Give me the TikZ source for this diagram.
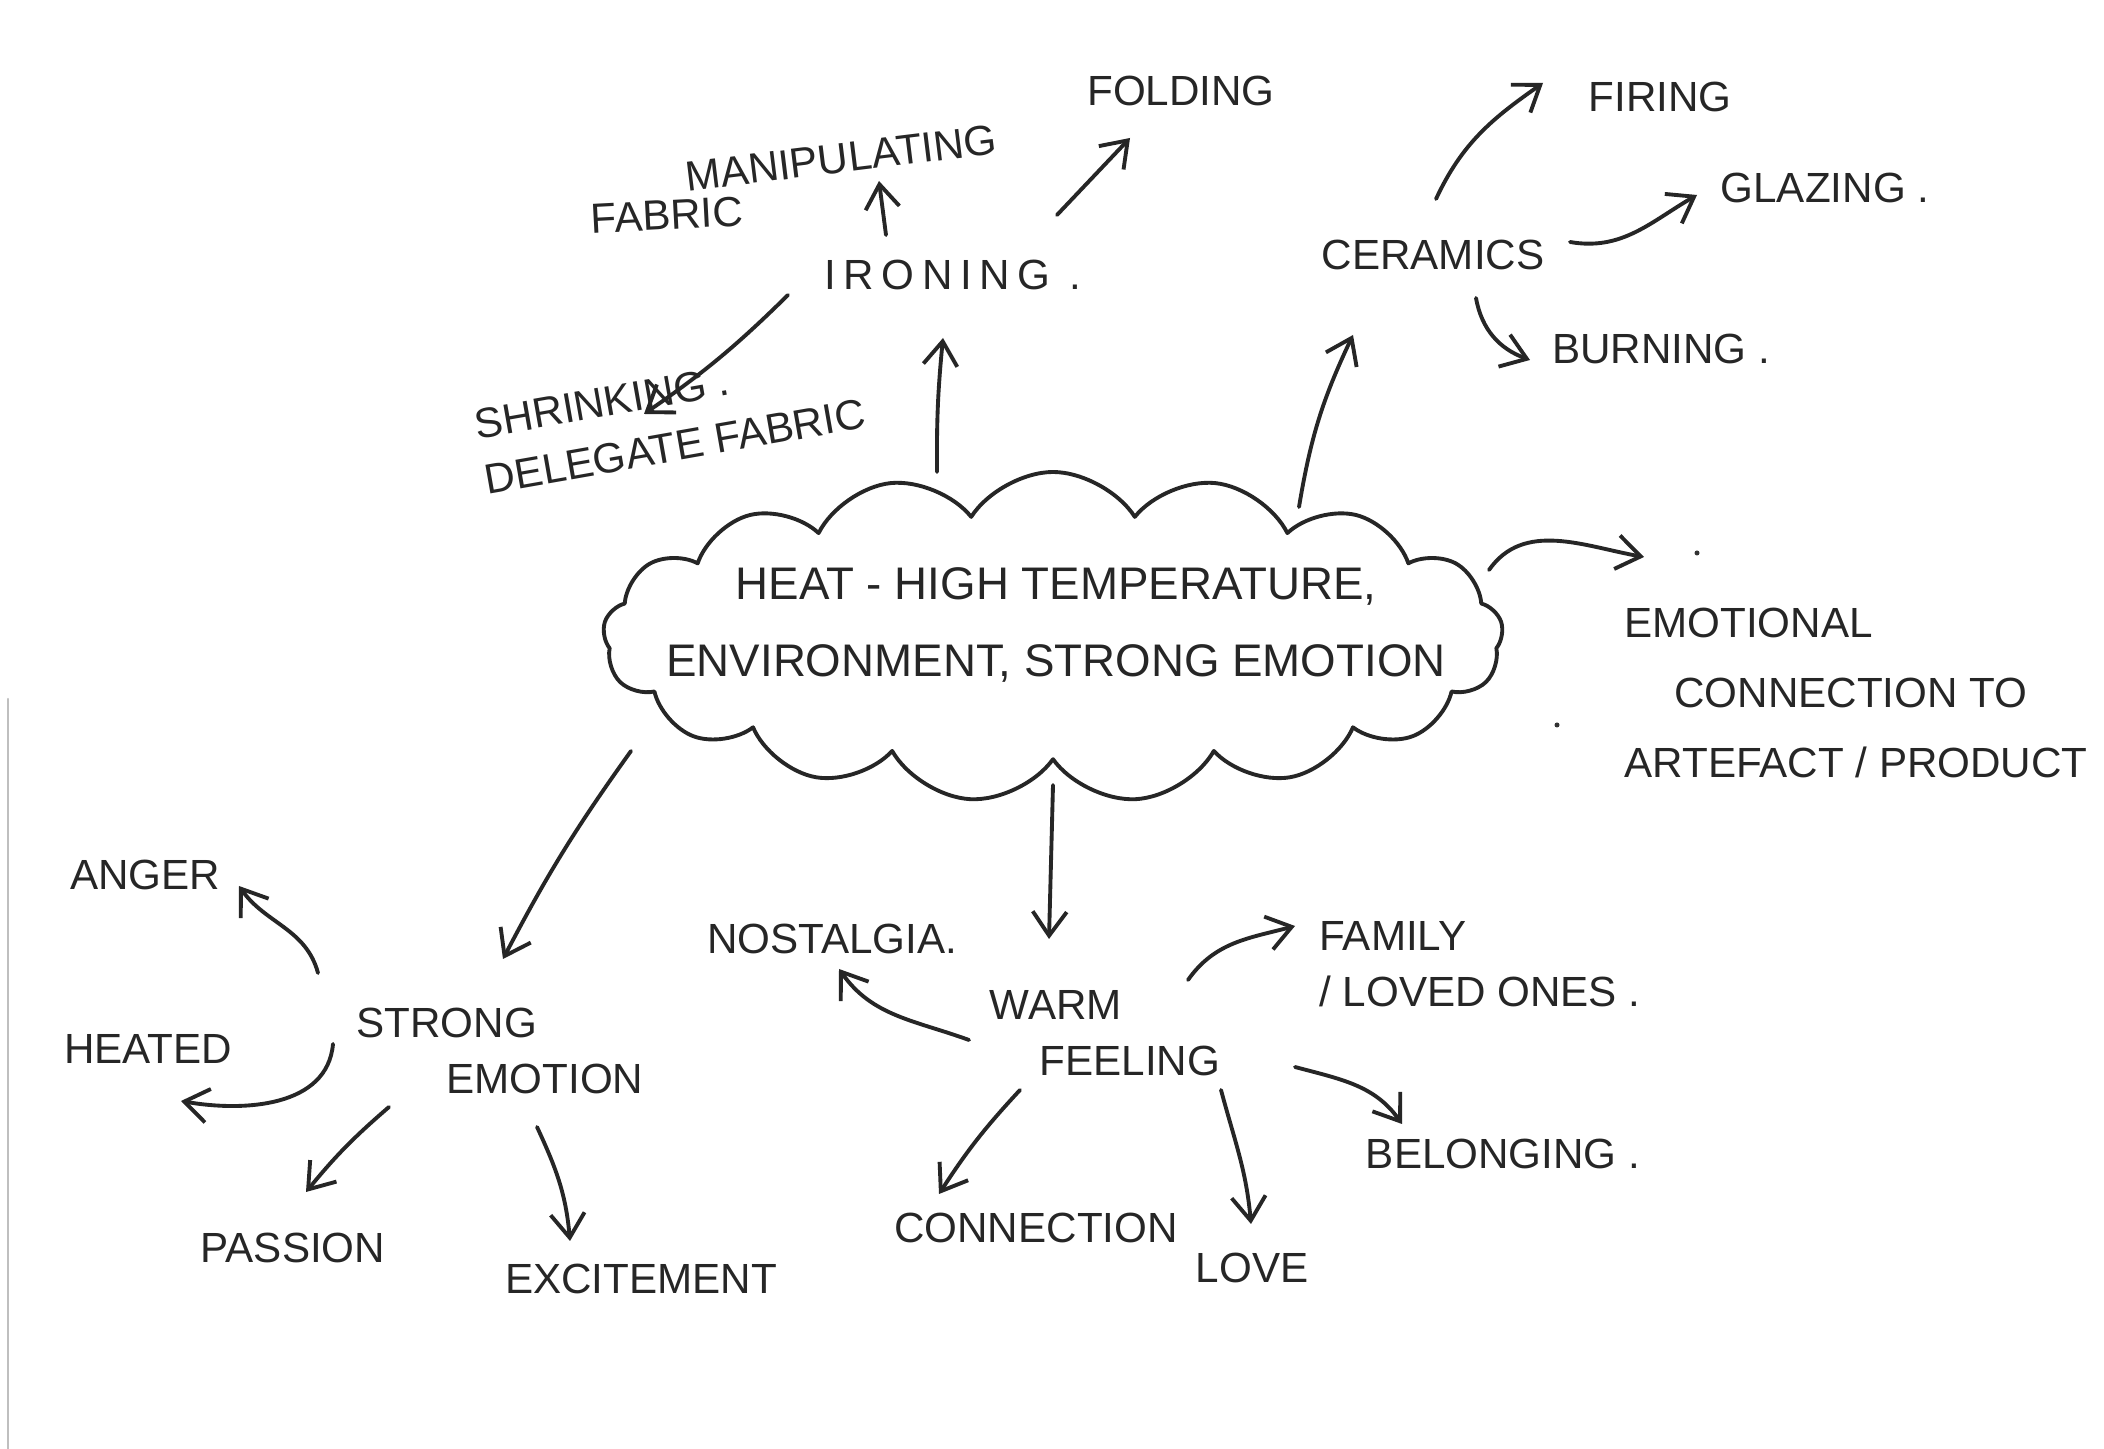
\documentclass[tikz,border=0pt]{standalone}
\usepackage{fontspec}
\setmainfont{Liberation Sans}
\usetikzlibrary{shapes.symbols,arrows.meta}

\begin{document}
\begin{tikzpicture}[line width=1.1pt, line cap=round, line join=round,
    word/.style={font=\fontsize{12}{16}\selectfont, inner sep=1pt, text=black!85},
    conn/.style={draw=black!85, -{Straight Barb[length=2.4mm,width=3.4mm]}}]
  % the sheet, with the scanner edge on the left
  \fill[white] (0,0) rectangle (21.04,14.49);
  \useasboundingbox (0,0) rectangle (21.04,14.49);
  \draw[black!25, line width=0.6pt] (0.08,0) -- (0.08,7.5);

  % the cloud in the middle, and its text on top
  \node[cloud, draw=black!85, cloud puffs=17, cloud puff arc=115, aspect=2.6,
        minimum width=9.0cm, minimum height=3.3cm] (heat) at (10.53,8.12) {};
  \node[align=center, font=\fontsize{13}{22}\selectfont, text=black!85] (heattext)
    at (10.56,8.24) {HEAT - HIGH TEMPERATURE,\\ENVIRONMENT, STRONG EMOTION};

  % ironing and what comes of it
  \node[word] (ironing) at (9.53,11.74) {\addfontfeature{LetterSpace=18}IRONING .};
  \node[word, rotate=7] (manip) at (8.41,12.91) {MANIPULATING};
  \node[word, rotate=3] (fabric) at (6.67,12.34) {FABRIC};
  \node[word] (folding) at (11.81,13.58) {FOLDING};
  \node[word, rotate=10, align=left] (shrink) at (6.70,10.30) {SHRINKING .\\DELEGATE FABRIC};

  % ceramics
  \node[word] (ceramics) at (14.33,11.94) {CERAMICS};
  \node[word] (firing) at (16.60,13.52) {FIRING};
  \node[word] (glazing) at (18.25,12.61) {GLAZING .};
  \node[word] (burning) at (16.61,11.00) {BURNING .};

  % the note on the right
  \node[word, align=left, font=\fontsize{12}{20}\selectfont] (emo) at (18.56,7.56)
    {EMOTIONAL\\\hspace{5mm}CONNECTION TO\\ARTEFACT / PRODUCT};
  \fill[black!80] (16.97,8.96) circle (0.025);
  \fill[black!80] (15.57,7.24) circle (0.025);

  % strong emotion
  \node[word, align=left] (strong) at (5.0,3.98) {STRONG\\\hspace{9mm}EMOTION};
  \node[word] (anger) at (1.45,5.74) {ANGER};
  \node[word] (heated) at (1.48,4.00) {HEATED};
  \node[word] (passion) at (2.93,2.01) {PASSION};
  \node[word] (excite) at (6.41,1.70) {EXCITEMENT};

  % warm feeling
  \node[word, align=left] (warm) at (11.05,4.16) {WARM\\\hspace{5mm}FEELING};
  \node[word] (nostalgia) at (8.32,5.10) {NOSTALGIA.};
  \node[word, align=left] (family) at (14.80,4.85) {FAMILY\\/ LOVED ONES .};
  \node[word] (belonging) at (15.03,2.95) {BELONGING .};
  \node[word] (connection) at (10.36,2.21) {CONNECTION};
  \node[word] (love) at (12.52,1.81) {LOVE};

  % arrows, top half
  \draw[conn] ([shift={(-0.67,0.40)}]ironing.center) to ([shift={(0.38,-0.23)}]manip.center);
  \draw[conn] ([shift={(1.04,0.60)}]ironing.center) to ([shift={(-0.51,-0.47)}]folding.center);
  \draw[conn] ([shift={(-1.65,-0.20)}]ironing.center) to[bend left=5] ([shift={(-0.26,0.05)}]shrink.center);
  \draw[conn] ([shift={(-1.16,1.65)}]heat.center) to[bend left=3] ([shift={(-0.10,-0.63)}]ironing.center);
  \draw[conn] ([shift={(2.46,1.30)}]heat.center) to[bend left=8] ([shift={(-0.80,-0.80)}]ceramics.center);
  \draw[conn] ([shift={(0.03,0.56)}]ceramics.center) to[out=65, in=-145] ([shift={(-1.17,0.14)}]firing.center);
  \draw[conn] ([shift={(1.37,0.13)}]ceramics.center) to[out=-10, in=-150] ([shift={(-1.28,-0.07)}]glazing.center);
  \draw[conn] ([shift={(0.43,-0.43)}]ceramics.center) to[out=-80, in=160] ([shift={(-1.31,-0.11)}]burning.center);
  \draw[conn] ([shift={(4.36,0.67)}]heat.center) to[out=55, in=170] ([shift={(-2.12,1.36)}]emo.center);

  % arrows, bottom half
  \draw[conn] ([shift={(-4.22,-1.14)}]heat.center) to[bend right=4] ([shift={(0.03,0.92)}]strong.center);
  \draw[conn] ([shift={(0,-1.48)}]heat.center) to ([shift={(-0.56,0.94)}]warm.center);
  \draw[conn] ([shift={(-1.82,0.78)}]strong.center) to[out=105, in=-55] ([shift={(0.94,-0.11)}]anger.center);
  \draw[conn] ([shift={(-1.67,0.07)}]strong.center) to[out=-95, in=-10] ([shift={(0.33,-0.52)}]heated.center);
  \draw[conn] ([shift={(-1.11,-0.56)}]strong.center) to[bend right=5] ([shift={(0.13,0.56)}]passion.center);
  \draw[conn] ([shift={(0.37,-0.76)}]strong.center) to[out=-65, in=95] ([shift={(-0.71,0.38)}]excite.center);
  \draw[conn] ([shift={(-1.36,-0.07)}]warm.center) to[out=160, in=-55] ([shift={(0.07,-0.30)}]nostalgia.center);
  \draw[conn] ([shift={(0.83,0.53)}]warm.center) to[out=55, in=195] ([shift={(-1.85,0.38)}]family.center);
  \draw[conn] ([shift={(1.90,-0.34)}]warm.center) to[out=-15, in=125] ([shift={(-1.01,0.30)}]belonging.center);
  \draw[conn] ([shift={(-0.85,-0.57)}]warm.center) to[bend right=5] ([shift={(-0.97,0.34)}]connection.center);
  \draw[conn] ([shift={(1.16,-0.57)}]warm.center) to[out=-75, in=95] ([shift={(-0.01,0.44)}]love.center);
\end{tikzpicture}
\end{document}
